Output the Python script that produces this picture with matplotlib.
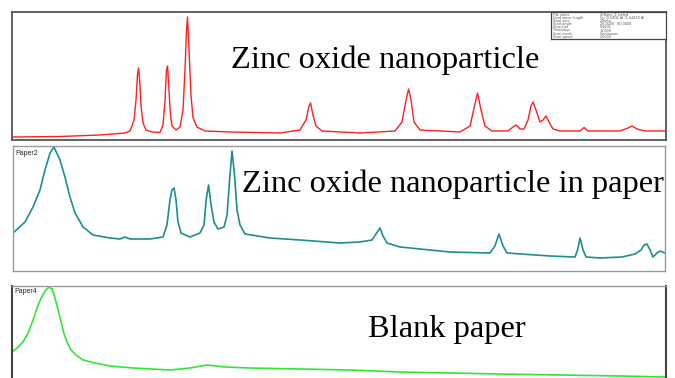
import matplotlib
matplotlib.use('Agg')
import matplotlib.pyplot as plt

# --- 读图得到的数据 (2theta, intensity) ---
# ZnO 纳米颗粒
zno_2theta = [20.00, 24.40, 28.07, 30.37, 30.83, 31.19, 31.38, 31.51, 31.61, 31.74,
              31.83, 32.02, 32.29, 32.84, 33.58, 33.85, 34.04, 34.17, 34.27, 34.40,
              34.54, 34.68, 35.05, 35.41, 35.69, 35.87, 36.01, 36.10, 36.24, 36.42,
              36.61, 36.97, 37.71, 40.00, 44.59, 46.42, 46.97, 47.25, 47.39, 47.61,
              47.89, 48.44, 51.93, 55.14, 55.78, 56.15, 56.38, 56.61, 56.88, 57.43,
              61.10, 62.02, 62.39, 62.71, 63.03, 63.39, 64.04, 65.50, 65.96, 66.24,
              66.61, 66.97, 67.34, 67.61, 67.80, 68.07, 68.44, 68.72, 68.99, 69.27,
              69.63, 70.28, 72.11, 72.48, 72.84, 75.78, 76.51, 76.88, 77.34, 78.07,
              80.00]
zno_counts = [3, 3.5, 5, 7, 9, 20, 40, 65, 72, 55,
              35, 17, 10, 8, 7.5, 15, 40, 70, 74, 50,
              25, 14, 10, 13, 30, 70, 110, 123, 90, 45,
              22, 13, 9, 8, 7, 10, 20, 34, 37, 25,
              14, 9, 7, 9, 18, 40, 51, 40, 18, 10,
              8, 14, 32, 47, 30, 14, 9, 9, 13, 15,
              11, 11, 20, 34, 38, 30, 18, 20, 24, 18,
              11, 9, 9, 12.5, 9, 9, 12, 14, 11, 9,
              9]

# 纸中的 ZnO
paper2_2theta = [19.60, 20.52, 21.13, 21.66, 22.04, 22.43, 22.73, 23.19, 23.57, 23.95,
                 24.34, 24.95, 25.71, 27.01, 27.77, 28.15, 28.54, 30.06, 31.06, 31.36,
                 31.59, 31.74, 31.90, 32.05, 32.20, 32.43, 33.12, 33.88, 34.19, 34.35,
                 34.54, 34.73, 34.95, 35.26, 35.72, 35.95, 36.14, 36.33, 36.52, 36.71,
                 36.94, 37.32, 39.23, 41.52, 44.58, 46.10, 47.02, 47.32, 47.63, 47.86,
                 48.17, 49.16, 52.98, 56.03, 56.41, 56.72, 57.03, 57.33, 60.62, 62.53,
                 62.72, 62.91, 63.14, 63.37, 64.44, 66.12, 67.11, 67.57, 67.80, 68.03,
                 68.26, 68.48, 68.79, 69.02, 69.40]
paper2_counts = [38, 49, 64, 81, 101, 118, 124, 111, 94, 74,
                 58, 44, 36, 33, 32, 34, 32, 32, 34, 46,
                 71, 81, 83, 71, 49, 38, 34, 38, 46, 71,
                 86, 66, 49, 42, 44, 56, 91, 120, 96, 61,
                 46, 37, 33, 31, 28, 29, 31, 37, 43, 35,
                 28, 24, 19, 18, 25, 37, 25, 18, 15, 14,
                 21, 33, 21, 14, 13, 14, 17, 21, 26, 27,
                 21, 14, 18, 20, 18]

# 空白纸
paper4_2theta = [19.52, 19.91, 20.36, 20.75, 21.13, 21.43, 21.74, 22.04, 22.35, 22.58,
                 22.81, 23.04, 23.27, 23.50, 23.72, 24.03, 24.41, 24.95, 25.86, 27.01,
                 28.77, 31.59, 33.12, 34.42, 35.79, 37.70, 41.52, 45.34, 49.16, 52.98,
                 56.80, 61.38, 65.96, 69.47]
paper4_counts = [30, 34, 40, 49, 62, 74, 84, 91, 95, 93,
                 84, 72, 60, 48, 40, 32, 27, 22, 19, 16,
                 14, 12, 14, 17, 15, 14, 13, 12, 10, 9,
                 8, 7, 6, 5]

titles = ['Zinc oxide nanoparticle', 'Zinc oxide nanoparticle in paper', 'Blank paper']
info_labels = ['File name', 'Used wave length', 'Scan axis', 'Start angle',
               'Step size', 'Time/step', 'Scan mode', 'Scan speed']
info_values = ['ZnNano_Z-sorted', 'Cu (1.5406 A) (1.54439 A)', '2Theta',
               '20.0000   80.0000', '0.0201', '15.000', 'Continuous', '2.0000']

W, H = 675, 378


def px_rect(x0, y0, x1, y1):
    # 像素坐标 -> figure 比例
    return [x0 / W, 1 - y1 / H, (x1 - x0) / W, (y1 - y0) / H]


def clean(ax, color, lw):
    ax.set_xticks([])
    ax.set_yticks([])
    for s in ax.spines.values():
        s.set_color(color)
        s.set_linewidth(lw)


fig = plt.figure(figsize=(W / 100, H / 100), dpi=100, facecolor='white')

# 上：ZnO
ax1 = fig.add_axes(px_rect(12, 12, 666, 140))
ax1.plot(zno_2theta, zno_counts, color='#ff1f1f', lw=1.0)
ax1.set_xlim(20, 80)
ax1.set_ylim(0, 128)
clean(ax1, '#555555', 1.3)

# 信息框
axi = fig.add_axes(px_rect(551, 12, 666, 39))
clean(axi, '#444444', 0.9)
for i, (lab, val) in enumerate(zip(info_labels, info_values)):
    yy = 1 - (14.5 + i * 3.2) / H
    fig.text(553 / W, yy, lab, fontsize=2.4, color='#555555', va='center',
             family='DejaVu Sans')
    fig.text(600 / W, yy, val, fontsize=2.4, color='#555555', va='center',
             family='DejaVu Sans')

# 中：纸中 ZnO
ax2 = fig.add_axes(px_rect(13, 146, 665, 271))
ax2.plot(paper2_2theta, paper2_counts, color='#1f8e8e', lw=1.2)
ax2.set_xlim(19.6, 69.4)
ax2.set_ylim(0, 125)
clean(ax2, '#999999', 1.0)
ax2.text(0.004, 0.97, 'Paper2', transform=ax2.transAxes, fontsize=5,
         family='Liberation Sans', va='top', ha='left', color='#222222')

# 下：空白纸
ax3 = fig.add_axes(px_rect(12, 286, 666, 382))
ax3.plot(paper4_2theta, paper4_counts, color='#33e633', lw=1.2)
ax3.set_xlim(19.52, 69.47)
ax3.set_ylim(0, 96)
clean(ax3, '#444444', 1.5)
ax3.spines['top'].set_color('#999999')
ax3.spines['top'].set_linewidth(1.0)
ax3.text(0.003, 0.975, 'Paper4', transform=ax3.transAxes, fontsize=5,
         family='Liberation Sans', va='top', ha='left', color='#222222')

# 标题文字
for (x, y), t in zip([(231, 68), (242, 192), (368, 337)], titles):
    fig.text(x / W, 1 - y / H, t, fontsize=23.4, family='Liberation Serif',
             va='baseline', ha='left', color='black')

fig.savefig('out.png', dpi=100, facecolor='white')
